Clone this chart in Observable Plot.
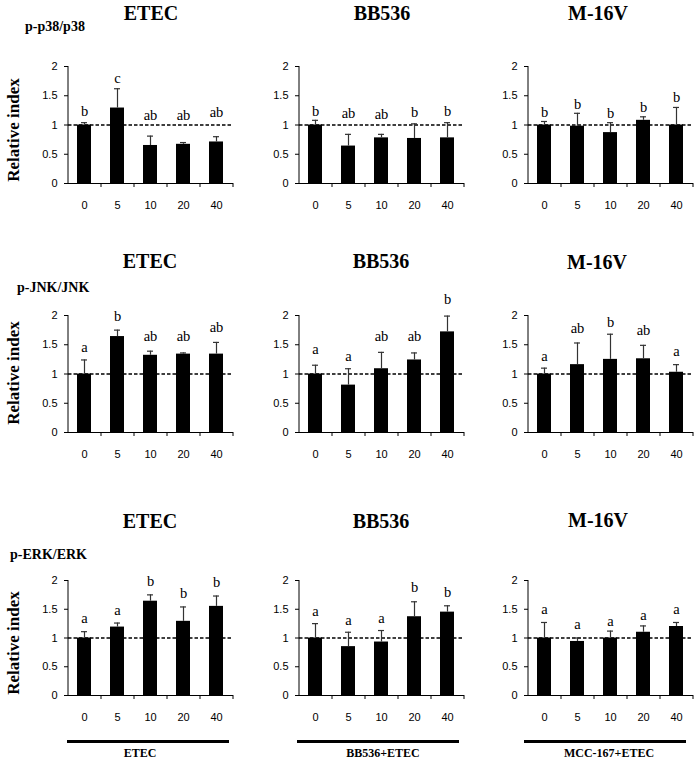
<!DOCTYPE html>
<html>
<head>
<meta charset="utf-8">
<script src="https://cdn.jsdelivr.net/npm/d3@7"></script>
<script src="https://cdn.jsdelivr.net/npm/@observablehq/plot@0.6"></script>
<style>
  html, body { margin: 0; padding: 0; background: #fff; }
  #fig { position: relative; width: 697px; height: 761px; overflow: hidden; background: #fff; font-family: "Liberation Serif", "Times New Roman", serif; color: #000; }
  .abs { position: absolute; white-space: nowrap; }
  .title { font-weight: bold; font-size: 20px; transform: translate(-50%, -50%); }
  .marker { font-weight: bold; font-size: 14px; transform: translate(0, -50%); }
  .ylab { font-weight: bold; font-size: 17px; transform: translate(-50%, -50%) rotate(-90deg); }
  .grp { font-weight: bold; font-size: 12px; transform: translate(-50%, -50%); }
  .bar { position: absolute; height: 3px; background: #000; }
  .panel { position: absolute; }
</style>
</head>
<body>
<div id="fig"></div>
<script>
// ---------- data ----------
const doses = ["0", "5", "10", "20", "40"];
const strains = ["ETEC", "BB536", "M-16V"];
const markers = ["p-p38/p38", "p-JNK/JNK", "p-ERK/ERK"];
const groupLabels = ["ETEC", "BB536+ETEC", "MCC-167+ETEC"];
const yTicks = [0, 0.5, 1, 1.5, 2];
const yLabel = "Relative index";

// p-p38/p38
const p38_ETEC_mean  = [1.00, 1.29, 0.65, 0.67, 0.71];
const p38_ETEC_sd    = [0.04, 0.33, 0.16, 0.03, 0.09];
const p38_ETEC_sig   = ["b", "c", "ab", "ab", "ab"];
const p38_ETEC_sigY  = [1.15, 1.72, 1.08, 1.09, 1.13];

const p38_BB536_mean = [1.00, 0.64, 0.78, 0.77, 0.78];
const p38_BB536_sd   = [0.08, 0.20, 0.06, 0.25, 0.26];
const p38_BB536_sig  = ["b", "ab", "ab", "b", "b"];
const p38_BB536_sigY = [1.15, 1.12, 1.11, 1.13, 1.16];

const p38_M16V_mean  = [1.00, 0.98, 0.87, 1.08, 1.00];
const p38_M16V_sd    = [0.06, 0.22, 0.17, 0.06, 0.30];
const p38_M16V_sig   = ["b", "b", "b", "b", "b"];
const p38_M16V_sigY  = [1.13, 1.27, 1.12, 1.22, 1.39];

// p-JNK/JNK
const jnk_ETEC_mean  = [1.00, 1.64, 1.32, 1.34, 1.34];
const jnk_ETEC_sd    = [0.24, 0.11, 0.07, 0.02, 0.20];
const jnk_ETEC_sig   = ["a", "b", "ab", "ab", "ab"];
const jnk_ETEC_sigY  = [1.37, 1.91, 1.56, 1.56, 1.72];

const jnk_BB536_mean = [1.00, 0.81, 1.09, 1.24, 1.72];
const jnk_BB536_sd   = [0.15, 0.28, 0.28, 0.12, 0.27];
const jnk_BB536_sig  = ["a", "a", "ab", "ab", "b"];
const jnk_BB536_sigY = [1.35, 1.22, 1.56, 1.56, 2.20];

const jnk_M16V_mean  = [1.00, 1.16, 1.25, 1.26, 1.03];
const jnk_M16V_sd    = [0.10, 0.37, 0.43, 0.23, 0.13];
const jnk_M16V_sig   = ["a", "ab", "b", "ab", "a"];
const jnk_M16V_sigY  = [1.23, 1.70, 1.81, 1.66, 1.31];

// p-ERK/ERK
const erk_ETEC_mean  = [1.00, 1.19, 1.64, 1.29, 1.55];
const erk_ETEC_sd    = [0.11, 0.07, 0.11, 0.25, 0.18];
const erk_ETEC_sig   = ["a", "a", "b", "b", "b"];
const erk_ETEC_sigY  = [1.26, 1.40, 1.91, 1.69, 1.89];

const erk_BB536_mean = [1.00, 0.85, 0.93, 1.37, 1.45];
const erk_BB536_sd   = [0.25, 0.25, 0.20, 0.26, 0.11];
const erk_BB536_sig  = ["a", "a", "a", "b", "b"];
const erk_BB536_sigY = [1.39, 1.23, 1.26, 1.80, 1.72];

const erk_M16V_mean  = [1.00, 0.94, 1.00, 1.10, 1.20];
const erk_M16V_sd    = [0.27, 0.06, 0.12, 0.11, 0.07];
const erk_M16V_sig   = ["a", "a", "a", "a", "a"];
const erk_M16V_sigY  = [1.41, 1.15, 1.21, 1.31, 1.41];

const panels = [
  [[p38_ETEC_mean, p38_ETEC_sd, p38_ETEC_sig, p38_ETEC_sigY],
   [p38_BB536_mean, p38_BB536_sd, p38_BB536_sig, p38_BB536_sigY],
   [p38_M16V_mean, p38_M16V_sd, p38_M16V_sig, p38_M16V_sigY]],
  [[jnk_ETEC_mean, jnk_ETEC_sd, jnk_ETEC_sig, jnk_ETEC_sigY],
   [jnk_BB536_mean, jnk_BB536_sd, jnk_BB536_sig, jnk_BB536_sigY],
   [jnk_M16V_mean, jnk_M16V_sd, jnk_M16V_sig, jnk_M16V_sigY]],
  [[erk_ETEC_mean, erk_ETEC_sd, erk_ETEC_sig, erk_ETEC_sigY],
   [erk_BB536_mean, erk_BB536_sd, erk_BB536_sig, erk_BB536_sigY],
   [erk_M16V_mean, erk_M16V_sd, erk_M16V_sig, erk_M16V_sigY]]
];

// ---------- layout ----------
const colAxisX = [68, 299, 528];
const rowTopY = [66, 315, 580];
const rowRange = [117, 117, 115];
const PW = 165, ML = 40, MR = 12, MT = 26, MB = 38;
const titlePos = [
  [[151, 13], [382, 13], [598, 13]],
  [[150, 261], [381, 261], [597, 262]],
  [[150, 521], [381, 521], [598, 520]]
];
const markerPos = [[25, 27], [17, 288], [10, 555]];
const ylabPos = [[14, 130], [14, 373], [14, 643]];
const grpLine = [[67, 229], [297, 459], [524, 686]];
const grpLineY = 741;
const grpLabelPos = [[140, 753], [383, 753], [609, 753]];

const fig = document.getElementById("fig");
function addDiv(cls, text, x, y) {
  const d = document.createElement("div");
  d.className = "abs " + cls;
  d.textContent = text;
  d.style.left = x + "px";
  d.style.top = y + "px";
  fig.appendChild(d);
  return d;
}

function makePanel([mean, sd, sig, sigY], plotH) {
  const data = doses.map((d, i) => ({dose: d, mean: mean[i], top: mean[i] + sd[i], sig: sig[i], sigY: sigY[i]}));
  const step = PW / doses.length;
  return Plot.plot({
    width: ML + PW + MR,
    height: MT + plotH + MB,
    marginLeft: ML, marginRight: MR, marginTop: MT, marginBottom: MB,
    style: {fontFamily: "'Liberation Sans', Arial, sans-serif", fontSize: "11px", background: "transparent", overflow: "visible", color: "#000"},
    x: {type: "band", domain: doses, paddingInner: 0.57, paddingOuter: 0.285, label: null},
    y: {domain: [0, 2], label: null},
    marks: [
      Plot.ruleY([1], {stroke: "#000", strokeWidth: 1.3, strokeDasharray: "3.5,2"}),
      Plot.barY(data, {x: "dose", y: "mean", fill: "#000"}),
      Plot.ruleX(data, {x: "dose", y1: "mean", y2: "top", stroke: "#333", strokeWidth: 1.2}),
      Plot.tickY(data, {x: "dose", y: "top", stroke: "#333", strokeWidth: 1.2, insetLeft: 4, insetRight: 4}),
      Plot.ruleY([0], {stroke: "#000", strokeWidth: 1}),
      Plot.ruleX([doses[0]], {dx: -step / 2, y1: yTicks[0], y2: yTicks[yTicks.length - 1], stroke: "#000", strokeWidth: 1}),
      Plot.axisY({ticks: yTicks, tickSize: 4, tickPadding: 7, tickFormat: d => String(d), label: null, fill: "#000"}),
      Plot.axisX({tickSize: 4, tickFormat: () => "", dx: step / 2, label: null}),
      Plot.axisX({tickSize: 0, tickPadding: 18, label: null, fill: "#000"}),
      Plot.text(data, {x: "dose", y: "sigY", text: "sig", lineAnchor: "bottom", fill: "#000", fontFamily: "'Liberation Serif', 'Times New Roman', serif", fontSize: 14.5})
    ]
  });
}

for (let r = 0; r < 3; r++) {
  for (let c = 0; c < 3; c++) {
    const svg = makePanel(panels[r][c], rowRange[r]);
    svg.classList.add("panel");
    svg.style.left = (colAxisX[c] - ML) + "px";
    svg.style.top = (rowTopY[r] - MT) + "px";
    fig.appendChild(svg);
    addDiv("title", strains[c], titlePos[r][c][0], titlePos[r][c][1]);
  }
  addDiv("marker", markers[r], markerPos[r][0], markerPos[r][1]);
  addDiv("ylab", yLabel, ylabPos[r][0], ylabPos[r][1]);
}
for (let c = 0; c < 3; c++) {
  const b = document.createElement("div");
  b.className = "bar";
  b.style.left = grpLine[c][0] + "px";
  b.style.width = (grpLine[c][1] - grpLine[c][0]) + "px";
  b.style.top = (grpLineY - 1.5) + "px";
  fig.appendChild(b);
  addDiv("grp", groupLabels[c], grpLabelPos[c][0], grpLabelPos[c][1]);
}
</script>
</body>
</html>
